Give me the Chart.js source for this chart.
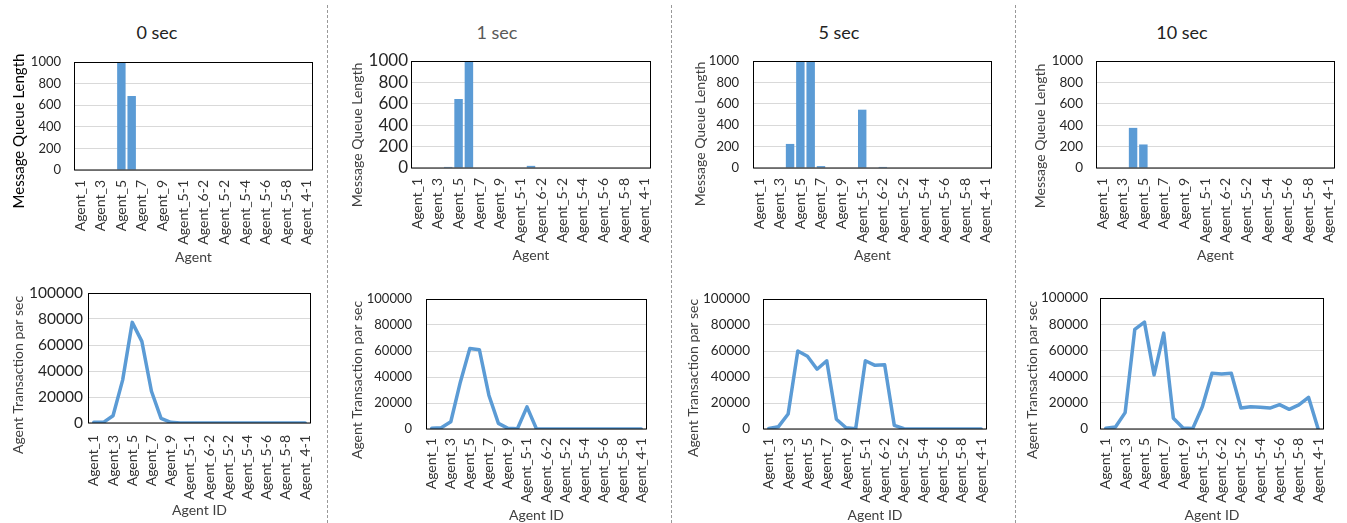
<!DOCTYPE html>
<html>
<head>
<meta charset="utf-8">
<script src="https://cdn.jsdelivr.net/npm/chart.js@4.4.1/dist/chart.umd.min.js"></script>
<style>
  html, body { margin: 0; padding: 0; background: #fff; }
  body { width: 1347px; height: 523px; position: relative; overflow: hidden; font-family: Lato, "Liberation Sans", sans-serif; }
  canvas { position: absolute; }
  .col-title { position: absolute; font-size: 18px; line-height: 22px; white-space: nowrap; transform: translateX(-50%); }
  .sep { position: absolute; top: 5px; height: 518px; width: 0; border-left: 1px dashed #999; }
</style>
</head>
<body>
<div class="sep" style="left:327px"></div>
<div class="sep" style="left:671px"></div>
<div class="sep" style="left:1015px"></div>
<script>
"use strict";

// categories (every second one is labelled on the axis)
const categories = [
  'Agent_1', 'Agent_2', 'Agent_3', 'Agent_4', 'Agent_5', 'Agent_6', 'Agent_7', 'Agent_8',
  'Agent_9', 'Agent_10', 'Agent_5-1', 'Agent_6-1', 'Agent_6-2', 'Agent_7-1', 'Agent_5-2',
  'Agent_5-3', 'Agent_5-4', 'Agent_5-5', 'Agent_5-6', 'Agent_5-7', 'Agent_5-8', 'Agent_5-9', 'Agent_4-1'
];
const columnTitles = ['0 sec', '1 sec', '5 sec', '10 sec'];

const queueTicks = [0, 200, 400, 600, 800, 1000];
const tpsTicks = [0, 20000, 40000, 60000, 80000, 100000];

// message queue length
const queue0  = [0, 0, 0, 0, 1000, 685, 0, 0, 0, 0, 0, 0, 0, 0, 0, 0, 0, 0, 0, 0, 0, 0, 0];
const queue1  = [0, 0, 0, 10, 645, 1000, 0, 0, 0, 0, 0, 20, 0, 0, 0, 0, 0, 0, 0, 0, 0, 0, 0];
const queue5  = [0, 0, 0, 225, 1000, 1000, 18, 0, 0, 0, 545, 0, 10, 0, 0, 0, 0, 0, 0, 0, 0, 0, 0];
const queue10 = [0, 0, 0, 375, 220, 0, 0, 0, 0, 0, 0, 0, 0, 0, 0, 0, 0, 0, 0, 0, 0, 0, 0];

// agent transactions per sec
const tps0  = [500, 500, 5600, 33000, 77400, 62800, 24400, 3600, 500, 0, 0, 0, 0, 0, 0, 0, 0, 0, 0, 0, 0, 0, 0];
const tps1  = [500, 1000, 5600, 36000, 62000, 61000, 26000, 4300, 500, 200, 17000, 0, 0, 0, 0, 0, 0, 0, 0, 0, 0, 0, 0];
const tps5  = [500, 1800, 11500, 60000, 56000, 46000, 52500, 7500, 1000, 200, 52500, 49000, 49500, 2800, 200, 0, 0, 0, 0, 0, 0, 0, 0];
const tps10 = [500, 1500, 12500, 76000, 81600, 41300, 73200, 8200, 800, 300, 17000, 42600, 42000, 42600, 16000,
               17000, 16600, 16000, 18600, 15000, 18400, 24200, 0];

const BLUE = '#5b9bd5';
const FONT = 'Lato, "Liberation Sans", sans-serif';

// layout of each column: canvas boxes and plot boxes (absolute page pixels)
const layout = [
  { title: { x: 157, color: '#222' }, cl: 0, cr: 326,
    top: { plot: [75, 62, 312, 170], tickSize: 13, tickPad: 14, xPad: 10, yt: [19, 131, 15, '#000'], xt: 257 },
    bot: { plot: [89, 293, 310, 423], tickSize: 15.5, tickPad: 6, xPad: 12, yt: [18, 375, 14, '#404040'], xt: 510 } },
  { title: { x: 497, color: '#595959' }, cl: 330, cr: 670,
    top: { plot: [412, 61, 650, 168], tickSize: 17, tickPad: 4, xPad: 10, yt: [357, 135, 14, '#404040'], xt: 255 },
    bot: { plot: [427, 299, 646, 429], tickSize: 13, tickPad: 15, xPad: 9, yt: [357, 380, 14, '#404040'], xt: 515 } },
  { title: { x: 839, color: '#222' }, cl: 673, cr: 1014,
    top: { plot: [754, 61, 991, 168], tickSize: 13, tickPad: 15, xPad: 10, yt: [700, 134, 14, '#404040'], xt: 255 },
    bot: { plot: [764, 299, 986, 429], tickSize: 13.5, tickPad: 14, xPad: 9, yt: [693, 378, 14, '#404040'], xt: 515 } },
  { title: { x: 1182, color: '#222' }, cl: 1017, cr: 1347,
    top: { plot: [1097, 61, 1334, 168], tickSize: 13.5, tickPad: 14, xPad: 10, yt: [1040, 136, 14, '#404040'], xt: 255 },
    bot: { plot: [1101, 298, 1323, 429], tickSize: 13.5, tickPad: 13, xPad: 9, yt: [1032, 380, 14, '#404040'], xt: 515 } }
];
const TOP_ROW = [40, 270];
const BOT_ROW = [280, 523];

// frame round the plot area plus the axis titles at fixed spots
const framePlugin = {
  id: 'plotFrame',
  afterDraw(chart, args, opts) {
    const ctx = chart.ctx;
    const a = chart.chartArea;
    ctx.save();
    ctx.strokeStyle = '#000';
    ctx.lineWidth = 1;
    ctx.strokeRect(Math.round(a.left) - 0.5, Math.round(a.top) + 0.5,
      Math.round(a.right - a.left) + 1, Math.round(a.bottom - a.top) - 0.5);

    // y title, rotated
    ctx.fillStyle = opts.yColor;
    ctx.font = opts.ySize + 'px ' + FONT;
    ctx.textAlign = 'center';
    ctx.textBaseline = 'middle';
    ctx.translate(opts.yx, opts.yy);
    ctx.rotate(-Math.PI / 2);
    ctx.fillText(opts.yText, 0, 0);
    ctx.restore();

    ctx.save();
    ctx.fillStyle = '#404040';
    ctx.font = '14px ' + FONT;
    ctx.textAlign = 'center';
    ctx.textBaseline = 'middle';
    ctx.fillText(opts.xText, (a.left + a.right) / 2, opts.xy);
    ctx.restore();
  }
};

function makeChart(colIdx, row, type, values, ticks, yText, xText) {
  const col = layout[colIdx];
  const cfg = row === 'top' ? col.top : col.bot;
  const rowBox = row === 'top' ? TOP_ROW : BOT_ROW;
  const [pl, pt, pr, pb] = cfg.plot;
  const width = col.cr - col.cl;
  const height = rowBox[1] - rowBox[0];

  let canvas = document.createElement('canvas');
  canvas.width = width;
  canvas.height = height;
  canvas.style.left = col.cl + 'px';
  canvas.style.top = rowBox[0] + 'px';
  canvas.style.width = width + 'px';
  canvas.style.height = height + 'px';
  document.body.appendChild(canvas);

  const dataset = type === 'bar'
    ? { data: values, backgroundColor: BLUE, categoryPercentage: 1.0, barPercentage: 0.82 }
    : { data: values, borderColor: BLUE, borderWidth: 3.5, pointRadius: 0, tension: 0,
        borderJoinStyle: 'round', borderCapStyle: 'round', fill: false };

  return new Chart(canvas, {
    type: type,
    data: { labels: categories, datasets: [dataset] },
    plugins: [framePlugin],
    options: {
      responsive: false,
      animation: false,
      devicePixelRatio: 1,
      layout: { padding: { top: pt - rowBox[0], right: col.cr - pr, left: 0, bottom: 0 } },
      plugins: {
        legend: { display: false },
        tooltip: { enabled: false },
        plotFrame: {
          yText: yText, yx: cfg.yt[0] - col.cl, yy: cfg.yt[1] - rowBox[0], ySize: cfg.yt[2], yColor: cfg.yt[3],
          xText: xText, xy: cfg.xt - rowBox[0]
        }
      },
      scales: {
        x: {
          offset: true,
          grid: { display: false, drawTicks: false },
          border: { display: false },
          ticks: {
            autoSkip: false,
            minRotation: 90,
            maxRotation: 90,
            padding: cfg.xPad,
            color: '#333',
            font: { family: FONT, size: 14 },
            callback: function(val, idx) {
              return idx % 2 === 0 ? this.getLabelForValue(val) : '';
            }
          },
          afterFit: function(scale) {
            scale.height = rowBox[1] - pb;
            scale.paddingLeft = 0;
            scale.paddingRight = 0;
          }
        },
        y: {
          min: ticks[0],
          max: ticks[ticks.length - 1],
          grid: { color: '#d9d9d9', drawTicks: false },
          border: { display: false },
          ticks: {
            autoSkip: false,
            padding: cfg.tickPad,
            color: '#262626',
            font: { family: FONT, size: cfg.tickSize },
            callback: (v) => String(v)
          },
          afterBuildTicks: function(scale) {
            scale.ticks = ticks.map(v => ({ value: v }));
          },
          afterFit: function(scale) {
            scale.width = pl - col.cl;
            scale.paddingTop = 0;
            scale.paddingBottom = 0;
          }
        }
      }
    }
  });
}

const queues = [queue0, queue1, queue5, queue10];
const tpsSeries = [tps0, tps1, tps5, tps10];

layout.forEach(function(col, i) {
  let t = document.createElement('div');
  t.className = 'col-title';
  t.style.left = col.title.x + 'px';
  t.style.top = '21px';
  t.style.color = col.title.color;
  t.textContent = columnTitles[i];
  document.body.appendChild(t);

  makeChart(i, 'top', 'bar', queues[i], queueTicks, 'Message Queue Length', 'Agent');
  makeChart(i, 'bot', 'line', tpsSeries[i], tpsTicks, 'Agent Transaction par sec', 'Agent ID');
});
</script>
</body>
</html>
